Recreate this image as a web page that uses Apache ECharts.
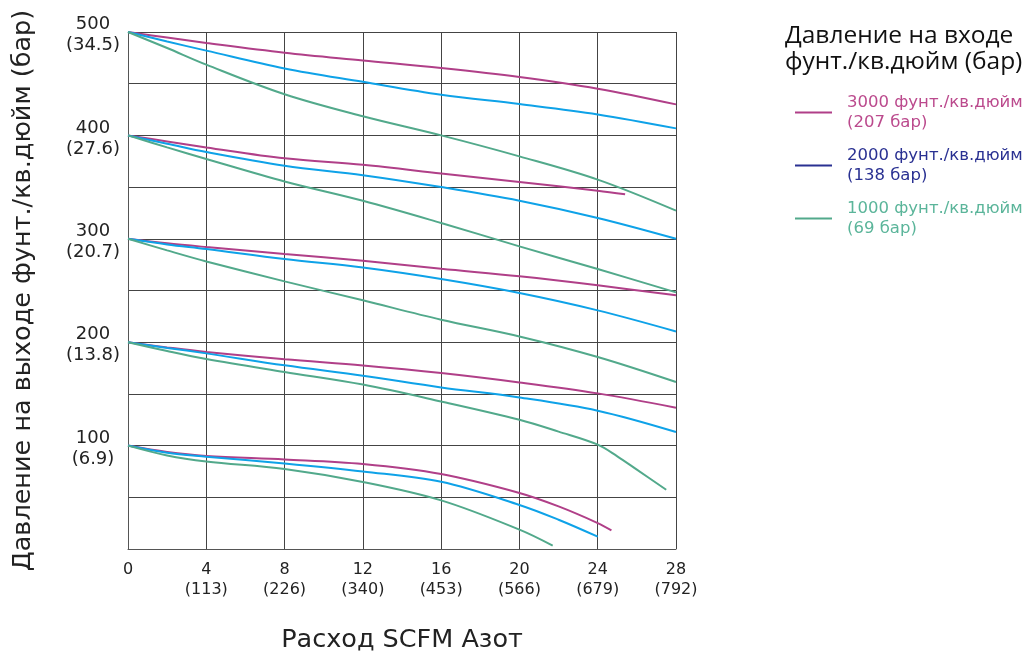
<!DOCTYPE html>
<html><head><meta charset="utf-8">
<script src="https://cdn.jsdelivr.net/npm/echarts@6/dist/echarts.min.js"></script>
<style>html,body{margin:0;padding:0;background:#fff}#c{width:1036px;height:654px}</style>
</head><body><div id="c"></div>
<script>
// X ticks (SCFM) and secondary labels (l/min)
const xTicks = [0, 4, 8, 12, 16, 20, 24, 28];
const xTickSub = ['', '113', '226', '340', '453', '566', '679', '792'];
// Y ticks (psi) and bar equivalents
const yTicks = [100, 200, 300, 400, 500];
const yTickSub = ['6.9', '13.8', '20.7', '27.6', '34.5'];

const seriesNames = ['3000 фунт./кв.дюйм\n(207 бар)', '2000 фунт./кв.дюйм\n(138 бар)', '1000 фунт./кв.дюйм\n(69 бар)'];

// Flow values (SCFM)
const flowStd = [0, 2, 4, 8, 12, 16, 20, 24, 28];

// Outlet 500 psi
const p3000_500 = [500, 494.6, 489.4, 480, 472.5, 465.2, 456.5, 445.2, 430];
const p2000_500 = [500, 490.8, 482, 464.8, 451.8, 439.3, 430.3, 420.3, 406.8];
const p1000_500 = [500, 484.5, 468.4, 439.8, 418.5, 400, 379.7, 357.2, 327.2];

// Outlet 400 psi
const flow3000_400 = [0, 2, 4, 8, 12, 16, 20, 24, 25.4];
const p3000_400 = [400, 394.2, 388.4, 377.8, 371.5, 363.2, 354.9, 346.5, 343];
const p2000_400 = [400, 392, 383.9, 370.7, 361.5, 350, 336.8, 320.1, 300];
const p1000_400 = [400, 388.4, 377.2, 355.5, 336.8, 315.3, 292.7, 270.8, 248.2];

// Outlet 300 psi
const p3000_300 = [300, 295.6, 292, 285.3, 278.8, 271, 263.7, 255, 245.3];
const p2000_300 = [300, 294.6, 290.1, 280.4, 272.2, 261.1, 247.6, 230.8, 210.4];
const p1000_300 = [300, 288.8, 278.1, 258.8, 240.5, 221.8, 205.6, 185.7, 161.5];

// Outlet 200 psi
const p3000_200 = [200, 195, 190.5, 183.4, 177.5, 170.2, 161.1, 150.5, 136.7];
const p2000_200 = [200, 194.5, 189.2, 177.6, 167.5, 156.3, 146.6, 133.8, 113.2];
const flow1000_200 = [0, 2, 4, 8, 12, 16, 20, 22, 24, 25, 26, 27.5];
const p1000_200 = [200, 191.5, 183.8, 171.2, 159, 142.7, 125, 113.5, 100.9, 89.6, 76.7, 57.3];

// Outlet 100 psi
const flow3000_100 = [0, 2, 4, 8, 12, 16, 20, 22, 24, 24.7];
const p3000_100 = [100, 93.8, 90, 86.6, 82.2, 72.5, 54.2, 41.2, 25.1, 18];
const flow2000_100 = [0, 2, 4, 8, 12, 16, 20, 22, 24];
const p2000_100 = [100, 93, 89.3, 82.8, 75, 65, 42.6, 28.3, 11.9];
const flow1000_100 = [0, 2, 4, 8, 12, 16, 20, 21.7];
const p1000_100 = [100, 90.5, 84.7, 77.4, 64.8, 47, 18.7, 3.2];

const lineColors = ['#b03f88', '#0ea2e8', '#52a98b'];
const legendIconColors = ['#b03f88', '#2a3192', '#52a98b'];
const legendTextColors = ['#bb4a8d', '#2a3192', '#5bb59a'];

function pairs(xs, ys) { return xs.map((x, i) => [x, ys[i]]); }

const curves = [
  [0, flowStd, p3000_500], [1, flowStd, p2000_500], [2, flowStd, p1000_500],
  [0, flow3000_400, p3000_400], [1, flowStd, p2000_400], [2, flowStd, p1000_400],
  [0, flowStd, p3000_300], [1, flowStd, p2000_300], [2, flowStd, p1000_300],
  [0, flowStd, p3000_200], [1, flowStd, p2000_200], [2, flow1000_200, p1000_200],
  [0, flow3000_100, p3000_100], [1, flow2000_100, p2000_100], [2, flow1000_100, p1000_100]
];

const series = curves.map(([k, xs, ys]) => ({
  type: 'line',
  name: seriesNames[k],
  data: pairs(xs, ys),
  smooth: 0.35,
  symbol: 'none',
  lineStyle: { color: lineColors[k], width: 2 },
  itemStyle: { color: lineColors[k] },
  z: 3
}));

const FONT = 'DejaVu Sans';
const chart = echarts.init(document.getElementById('c'), null, { renderer: 'canvas' });
chart.setOption({
  animation: false,
  backgroundColor: '#fff',
  title: {
    text: 'Давление на входе\nфунт./кв.дюйм (бар)',
    left: 780, top: 18,
    textStyle: { fontFamily: 'Open Sans', fontSize: 24.5, fontWeight: 'normal', color: '#111', lineHeight: 26 }
  },
  legend: {
    orient: 'vertical',
    left: 790, top: 88,
    icon: 'rect',
    itemWidth: 37, itemHeight: 2,
    itemGap: 14,
    selectedMode: false,
    textStyle: { fontFamily: FONT, fontSize: 16.5, lineHeight: 19.5, padding: [0, 0, 0, 10] },
    data: seriesNames.map((n, i) => ({
      name: n,
      itemStyle: { color: legendIconColors[i] },
      textStyle: { color: legendTextColors[i] }
    }))
  },
  grid: { left: 128, top: 32, width: 548, height: 517, containLabel: false, outerBoundsMode: 'none' },
  xAxis: {
    type: 'value', min: 0, max: 28, interval: 4,
    name: 'Расход SCFM Азот', nameLocation: 'middle', nameGap: 78,
    nameTextStyle: { fontFamily: FONT, fontSize: 25.5, color: '#222' },
    axisLine: { show: true, lineStyle: { color: '#555', width: 1 } },
    axisTick: { show: false },
    splitLine: { show: true, lineStyle: { color: '#444', width: 1 } },
    axisLabel: {
      margin: 11, fontFamily: FONT, fontSize: 16, color: '#222', lineHeight: 20,
      formatter: v => { const i = xTicks.indexOf(v); if (i < 0) return ''; return xTickSub[i] ? v + '\n(' + xTickSub[i] + ')' : String(v); }
    }
  },
  yAxis: {
    type: 'value', min: 0, max: 500, interval: 50,
    name: 'Давление на выходе фунт./кв.дюйм (бар)', nameLocation: 'middle', nameGap: 92,
    nameTextStyle: { fontFamily: FONT, fontSize: 25.5, color: '#222' },
    axisLine: { show: true, lineStyle: { color: '#555', width: 1 } },
    axisTick: { show: false },
    splitLine: { show: true, lineStyle: { color: '#444', width: 1 } },
    axisLabel: {
      margin: 35, align: 'center', fontFamily: FONT, fontSize: 18, color: '#222', lineHeight: 21,
      rich: {
        s: { fontSize: 1, lineHeight: 6 },
        t: { fontFamily: FONT, fontSize: 18, color: '#222', lineHeight: 21, align: 'center' }
      },
      formatter: v => { const i = yTicks.indexOf(v); return i < 0 ? '' : '{s| }\n{t|' + v + '}\n{t|(' + yTickSub[i] + ')}'; }
    }
  },
  series: series
});
</script></body></html>
